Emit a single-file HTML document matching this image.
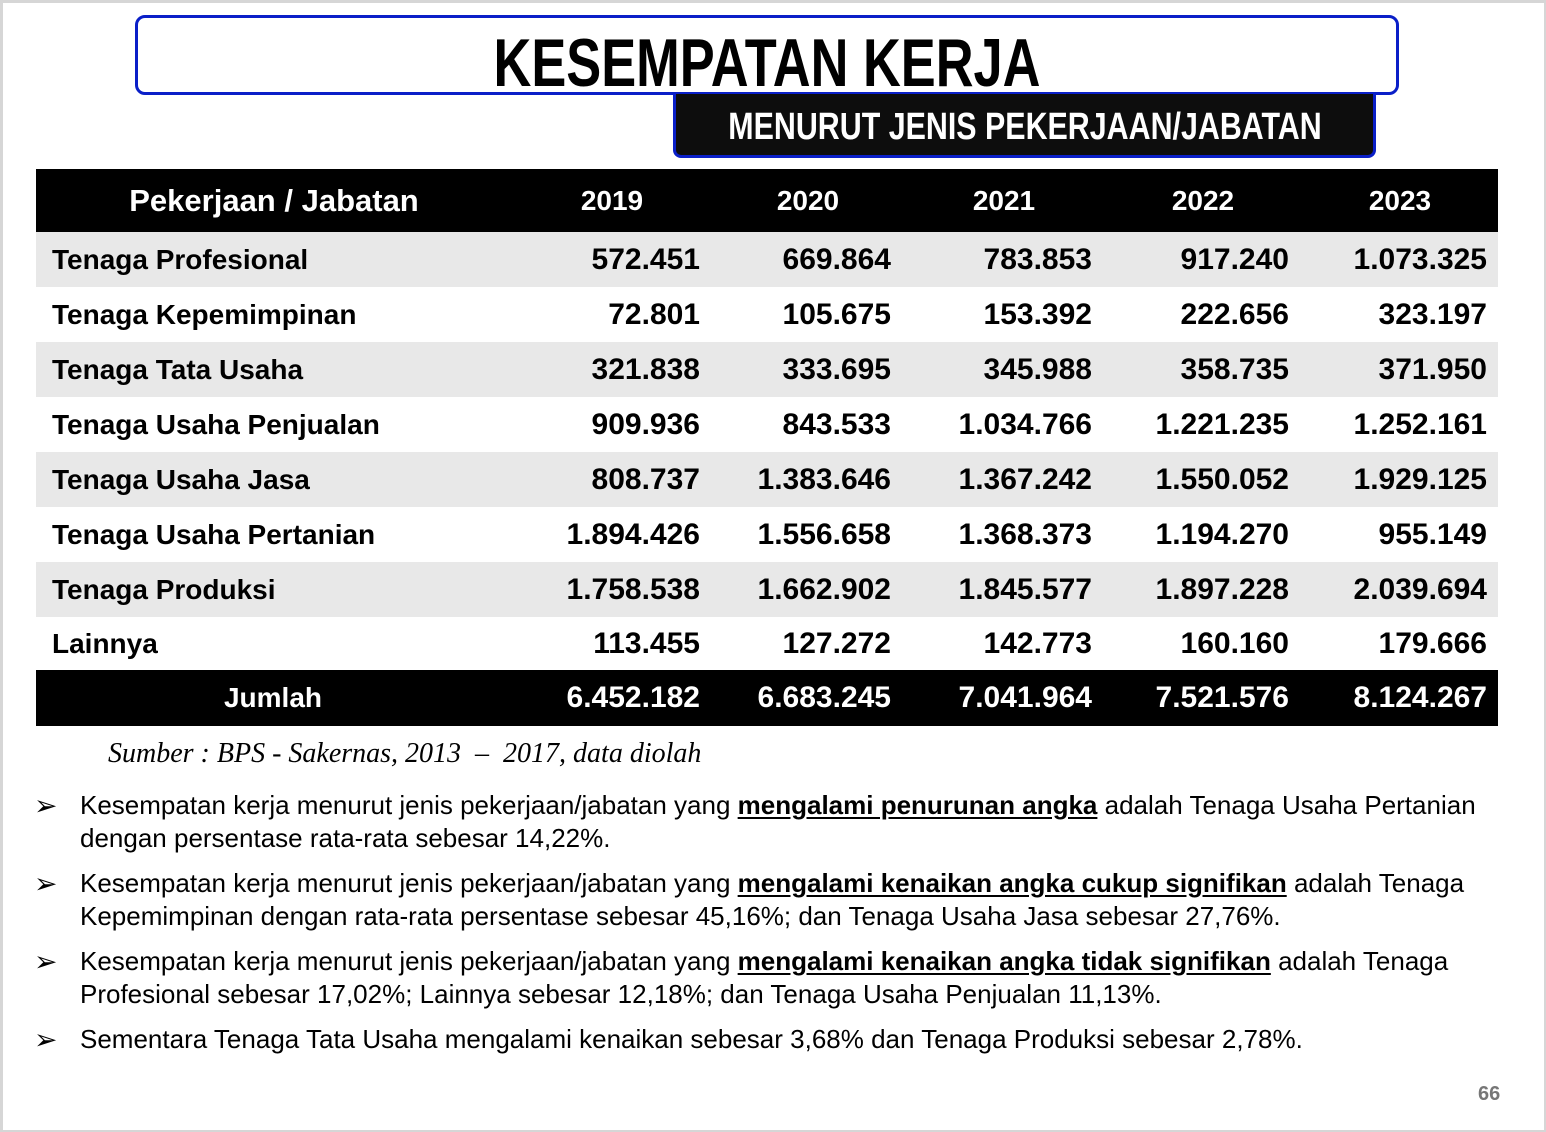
<!DOCTYPE html>
<html><head><meta charset="utf-8"><style>
*{margin:0;padding:0;box-sizing:border-box}
body{width:1546px;height:1132px;background:#fff;position:relative;overflow:hidden;font-family:"Liberation Sans",sans-serif;font-weight:bold;color:#000}
.frame{position:absolute;left:0;top:0;width:1546px;height:1132px;border:3px solid #d6d6d6;border-right-width:2px;border-bottom-width:2px}
.t1{position:absolute;left:135px;top:15px;width:1264px;height:80px;border:3px solid #0a1fc8;border-radius:10px;background:#fff}
.t1 span{position:absolute;left:50%;top:10px;font-size:68px;line-height:70px;white-space:nowrap;transform:translateX(-50%) scaleX(0.77);transform-origin:center}
.t2{position:absolute;left:673px;top:94px;width:703px;height:64px;border:3px solid #0a1fc8;border-top:none;border-radius:0 0 8px 8px;background:#0d0d0d;color:#fff}
.t2 span{position:absolute;left:50%;top:13px;font-size:38px;line-height:40px;white-space:nowrap;transform:translateX(-50%) scaleX(0.80)}
.row{position:absolute;left:36px;width:1462px;height:55px}
.g{background:#e8e8e8}.b{background:#000;color:#fff}
.c{position:absolute;top:0;line-height:55px;white-space:nowrap;font-size:30px}
.l{left:16px;font-size:28px;letter-spacing:0}
.r{text-align:right;width:200px}
.src{position:absolute;left:108px;top:738px;font-family:"Liberation Serif",serif;font-style:italic;font-weight:normal;font-size:28px;letter-spacing:0}
.bl{position:absolute;left:80px;font-weight:normal;font-size:26px;white-space:nowrap;line-height:33px}
.bu{position:absolute;left:34px;font-weight:normal;font-size:28px;line-height:33px}
u{font-weight:bold;text-underline-offset:3px}
.pn{position:absolute;left:1478px;top:1083px;font-size:20px;color:#777}
</style></head><body>
<div class="frame"></div>
<div class="t1"><span>KESEMPATAN KERJA</span></div>
<div class="t2"><span>MENURUT JENIS PEKERJAAN/JABATAN</span></div>

<div class="row b" style="top:169px;height:63px">
<div class="c" style="left:0;width:476px;text-align:center;line-height:63px;font-size:31px">Pekerjaan / Jabatan</div>
<div class="c" style="left:476px;width:200px;text-align:center;line-height:63px;font-size:28px">2019</div>
<div class="c" style="left:672px;width:200px;text-align:center;line-height:63px;font-size:28px">2020</div>
<div class="c" style="left:868px;width:200px;text-align:center;line-height:63px;font-size:28px">2021</div>
<div class="c" style="left:1067px;width:200px;text-align:center;line-height:63px;font-size:28px">2022</div>
<div class="c" style="left:1264px;width:200px;text-align:center;line-height:63px;font-size:28px">2023</div>
</div>

<div class="row g" style="top:232px"><div class="c l">Tenaga Profesional</div><div class="c r" style="left:464px">572.451</div><div class="c r" style="left:655px">669.864</div><div class="c r" style="left:856px">783.853</div><div class="c r" style="left:1053px">917.240</div><div class="c r" style="left:1251px">1.073.325</div></div>
<div class="row" style="top:287px"><div class="c l">Tenaga Kepemimpinan</div><div class="c r" style="left:464px">72.801</div><div class="c r" style="left:655px">105.675</div><div class="c r" style="left:856px">153.392</div><div class="c r" style="left:1053px">222.656</div><div class="c r" style="left:1251px">323.197</div></div>
<div class="row g" style="top:342px"><div class="c l">Tenaga Tata Usaha</div><div class="c r" style="left:464px">321.838</div><div class="c r" style="left:655px">333.695</div><div class="c r" style="left:856px">345.988</div><div class="c r" style="left:1053px">358.735</div><div class="c r" style="left:1251px">371.950</div></div>
<div class="row" style="top:397px"><div class="c l">Tenaga Usaha Penjualan</div><div class="c r" style="left:464px">909.936</div><div class="c r" style="left:655px">843.533</div><div class="c r" style="left:856px">1.034.766</div><div class="c r" style="left:1053px">1.221.235</div><div class="c r" style="left:1251px">1.252.161</div></div>
<div class="row g" style="top:452px"><div class="c l">Tenaga Usaha Jasa</div><div class="c r" style="left:464px">808.737</div><div class="c r" style="left:655px">1.383.646</div><div class="c r" style="left:856px">1.367.242</div><div class="c r" style="left:1053px">1.550.052</div><div class="c r" style="left:1251px">1.929.125</div></div>
<div class="row" style="top:507px"><div class="c l">Tenaga Usaha Pertanian</div><div class="c r" style="left:464px">1.894.426</div><div class="c r" style="left:655px">1.556.658</div><div class="c r" style="left:856px">1.368.373</div><div class="c r" style="left:1053px">1.194.270</div><div class="c r" style="left:1251px">955.149</div></div>
<div class="row g" style="top:562px"><div class="c l">Tenaga Produksi</div><div class="c r" style="left:464px">1.758.538</div><div class="c r" style="left:655px">1.662.902</div><div class="c r" style="left:856px">1.845.577</div><div class="c r" style="left:1053px">1.897.228</div><div class="c r" style="left:1251px">2.039.694</div></div>
<div class="row" style="top:617px;height:53px"><div class="c l" style="line-height:53px">Lainnya</div><div class="c r" style="left:464px;line-height:53px">113.455</div><div class="c r" style="left:655px;line-height:53px">127.272</div><div class="c r" style="left:856px;line-height:53px">142.773</div><div class="c r" style="left:1053px;line-height:53px">160.160</div><div class="c r" style="left:1251px;line-height:53px">179.666</div></div>
<div class="row b" style="top:670px;height:56px"><div class="c" style="left:0;width:474px;text-align:center;line-height:56px;font-size:28px">Jumlah</div><div class="c r" style="left:464px;line-height:56px">6.452.182</div><div class="c r" style="left:655px;line-height:56px">6.683.245</div><div class="c r" style="left:856px;line-height:56px">7.041.964</div><div class="c r" style="left:1053px;line-height:56px">7.521.576</div><div class="c r" style="left:1251px;line-height:56px">8.124.267</div></div>

<div class="src">Sumber : BPS - Sakernas, 2013 &nbsp;– &nbsp;2017, data diolah</div>

<div class="bu" style="top:789px">➢</div>
<div class="bl" style="top:789px">Kesempatan kerja menurut jenis pekerjaan/jabatan yang <u>mengalami penurunan angka</u> adalah Tenaga Usaha Pertanian</div>
<div class="bl" style="top:822px">dengan persentase rata-rata sebesar 14,22%.</div>
<div class="bu" style="top:867px">➢</div>
<div class="bl" style="top:867px">Kesempatan kerja menurut jenis pekerjaan/jabatan yang <u>mengalami kenaikan angka cukup signifikan</u> adalah Tenaga</div>
<div class="bl" style="top:900px">Kepemimpinan dengan rata-rata persentase sebesar 45,16%; dan Tenaga Usaha Jasa sebesar 27,76%.</div>
<div class="bu" style="top:945px">➢</div>
<div class="bl" style="top:945px">Kesempatan kerja menurut jenis pekerjaan/jabatan yang <u>mengalami kenaikan angka tidak signifikan</u> adalah Tenaga</div>
<div class="bl" style="top:978px">Profesional sebesar 17,02%; Lainnya sebesar 12,18%; dan Tenaga Usaha Penjualan 11,13%.</div>
<div class="bu" style="top:1023px">➢</div>
<div class="bl" style="top:1023px">Sementara Tenaga Tata Usaha mengalami kenaikan sebesar 3,68% dan Tenaga Produksi sebesar 2,78%.</div>

<div class="pn">66</div>
</body></html>
